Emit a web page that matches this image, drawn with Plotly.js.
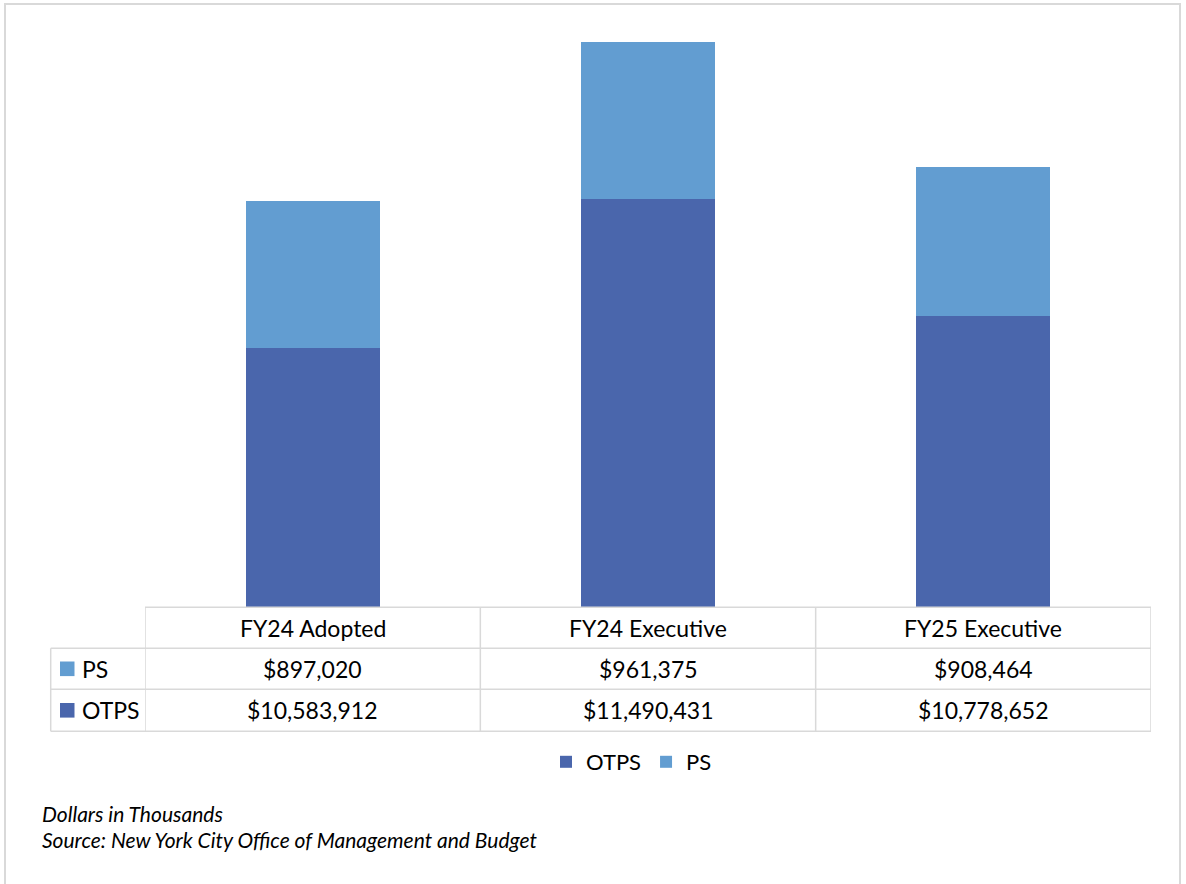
<!DOCTYPE html>
<html>
<head>
<meta charset="utf-8">
<script src="https://cdn.plot.ly/plotly-3.0.1.min.js"></script>
<style>
  html, body { margin: 0; padding: 0; background: #fff; }
  #chart { width: 1186px; height: 884px; }
</style>
</head>
<body>
<div id="chart"></div>
<script>
// budget data, dollars in thousands
const categories = ["FY24 Adopted", "FY24 Executive", "FY25 Executive"];
const otpsValues = [10583912, 11490431, 10778652];
const psValues = [897020, 961375, 908464];
const seriesNames = ["OTPS", "PS"];
const footNotes = ["Dollars in Thousands", "Source: New York City Office of Management and Budget"];

const W = 1186, H = 884;
const M = { l: 145, r: 35, t: 34, b: 277 };
const plotW = W - M.l - M.r, plotH = H - M.t - M.b;

// pixel -> paper helpers for the table and frame
const px = x => (x - M.l) / plotW;
const py = y => (H - M.b - y) / plotH;

const otpsColor = "#4A66AC";
const psColor = "#629DD1";
const gridColor = "#D9D9D9";
const font = "Lato, 'Open Sans', sans-serif";

function fmt(v) {
  return "$" + v.toLocaleString("en-US");
}

document.addEventListener("DOMContentLoaded", function () {
  const data = [
    {
      type: "bar",
      name: seriesNames[0],
      x: categories,
      y: otpsValues,
      marker: { color: otpsColor },
      hoverinfo: "x+y+name"
    },
    {
      type: "bar",
      name: seriesNames[1],
      x: categories,
      y: psValues,
      marker: { color: psColor },
      hoverinfo: "x+y+name"
    }
  ];

  const shapes = [];
  const annotations = [];
  const line = { color: gridColor, width: 1.5 };

  // outer frame
  shapes.push({ type: "rect", xref: "paper", yref: "paper",
    x0: px(5), x1: px(1180), y0: py(4), y1: py(900),
    line: { color: gridColor, width: 2 } });

  // table rows (pixel y)
  const yTop = 607.3, yHead = 648.3, yPs = 689.3, yBot = 731.3;
  const xLeft = 50.7;

  // horizontal lines
  shapes.push({ type: "line", xref: "x", yref: "paper", x0: -0.5, x1: 2.5, y0: py(yTop), y1: py(yTop), line });
  [yHead, yPs, yBot].forEach(y => {
    shapes.push({ type: "line", xref: "paper", yref: "paper", x0: px(xLeft), x1: 1, y0: py(y), y1: py(y), line });
  });
  // vertical lines
  shapes.push({ type: "line", xref: "paper", yref: "paper", x0: px(xLeft), x1: px(xLeft), y0: py(yHead), y1: py(yBot), line });
  [-0.5, 0.5, 1.5, 2.5].forEach(x => {
    shapes.push({ type: "line", xref: "x", yref: "paper", x0: x, x1: x, y0: py(yTop), y1: py(yBot), line });
  });

  const cellFont = { family: font, size: 23, color: "#000" };
  const rowY = [(yTop + yHead) / 2, (yHead + yPs) / 2, (yPs + yBot) / 2];

  categories.forEach((c, i) => {
    annotations.push({ xref: "x", yref: "paper", x: c, y: py(rowY[0]), text: c,
      showarrow: false, font: cellFont, xanchor: "center", yanchor: "middle" });
    annotations.push({ xref: "x", yref: "paper", x: c, y: py(rowY[1]), text: fmt(psValues[i]),
      showarrow: false, font: cellFont, xanchor: "center", yanchor: "middle" });
    annotations.push({ xref: "x", yref: "paper", x: c, y: py(rowY[2]), text: fmt(otpsValues[i]),
      showarrow: false, font: cellFont, xanchor: "center", yanchor: "middle" });
  });

  // row keys
  const keys = [[seriesNames[1], psColor, rowY[1]], [seriesNames[0], otpsColor, rowY[2]]];
  keys.forEach(([name, color, y]) => {
    shapes.push({ type: "rect", xref: "paper", yref: "paper",
      x0: px(60), x1: px(74.5), y0: py(y - 7.3), y1: py(y + 7.3),
      fillcolor: color, line: { width: 0 } });
    annotations.push({ xref: "paper", yref: "paper", x: px(80), y: py(y), text: name,
      showarrow: false, font: cellFont, xanchor: "left", yanchor: "middle" });
  });

  // foot notes
  footNotes.forEach((t, i) => {
    annotations.push({ xref: "paper", yref: "paper", x: px(40), y: py(813 + i * 27), text: "<i>" + t + "</i>",
      showarrow: false, font: { family: font, size: 21, color: "#000" }, xanchor: "left", yanchor: "middle" });
  });

  const layout = {
    width: W,
    height: H,
    margin: M,
    paper_bgcolor: "#fff",
    plot_bgcolor: "#fff",
    barmode: "stack",
    bargap: 0.6,
    font: { family: font, color: "#000" },
    xaxis: { range: [-0.5, 2.5], showticklabels: false, showgrid: false, zeroline: false, showline: false, ticks: "" },
    yaxis: { range: [9000000, 12500000], visible: false, showgrid: false, zeroline: false },
    showlegend: true,
    legend: {
      orientation: "h",
      x: px(631.5), xanchor: "center",
      y: py(762), yanchor: "middle",
      font: { family: font, size: 22, color: "#000" },
      traceorder: "normal",
      itemwidth: 30
    },
    shapes: shapes,
    annotations: annotations
  };

  Plotly.newPlot("chart", data, layout, { displayModeBar: false });
});
</script>
</body>
</html>
